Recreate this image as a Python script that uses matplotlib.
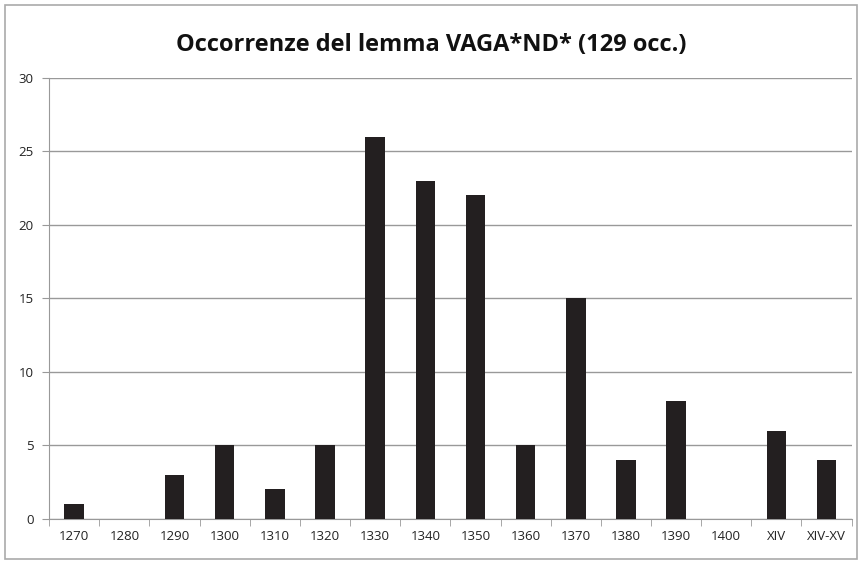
import numpy as np
import matplotlib
matplotlib.use('agg')
import matplotlib.pyplot as plt
from matplotlib.patches import Rectangle

# dati
categories = ['1270', '1280', '1290', '1300', '1310', '1320', '1330', '1340',
              '1350', '1360', '1370', '1380', '1390', '1400', 'XIV', 'XIV-XV']
counts = [1, 0, 3, 5, 2, 5, 26, 23, 22, 5, 15, 4, 8, 0, 6, 4]
yticks = [0, 5, 10, 15, 20, 25, 30]

plt.rcParams['font.family'] = ['Open Sans', 'DejaVu Sans']

fig = plt.figure(figsize=(8.62, 5.64), dpi=100)
ax = fig.add_axes([0.057, 0.080, 0.931, 0.782])

x = np.arange(len(categories))
ax.bar(x, counts, width=0.39, color='#231f20', zorder=3)

ax.set_xlim(-0.5, len(categories) - 0.5)
ax.set_ylim(0, 30)
ax.set_yticks(yticks)
ax.set_xticks(x)
ax.set_xticklabels(categories)
ax.set_xticks(np.arange(len(categories) + 1) - 0.5, minor=True)
ax.tick_params(axis='x', which='major', length=0, labelsize=9.5, pad=8, labelcolor='#222222')
ax.tick_params(axis='x', which='minor', length=5, color='#999999')
ax.tick_params(axis='y', length=5, color='#999999', labelsize=9.5, pad=6, labelcolor='#222222')
ax.grid(axis='y', color='#999999', linewidth=1, zorder=0)

for s in ['top', 'right']:
    ax.spines[s].set_visible(False)
ax.spines['left'].set_color('#999999')
ax.spines['bottom'].set_color('#999999')

fig.text(0.5, 0.92, 'Occorrenze del lemma VAGA*ND* (129 occ.)', ha='center', va='center',
         fontsize=17, fontweight='bold', color='#111111')

# cornice esterna
fig.patches.append(Rectangle((0.006, 0.009), 0.988, 0.982, transform=fig.transFigure,
                             fill=False, edgecolor='#aaaaaa', linewidth=1.2))

fig.savefig('out.png', dpi=100)
